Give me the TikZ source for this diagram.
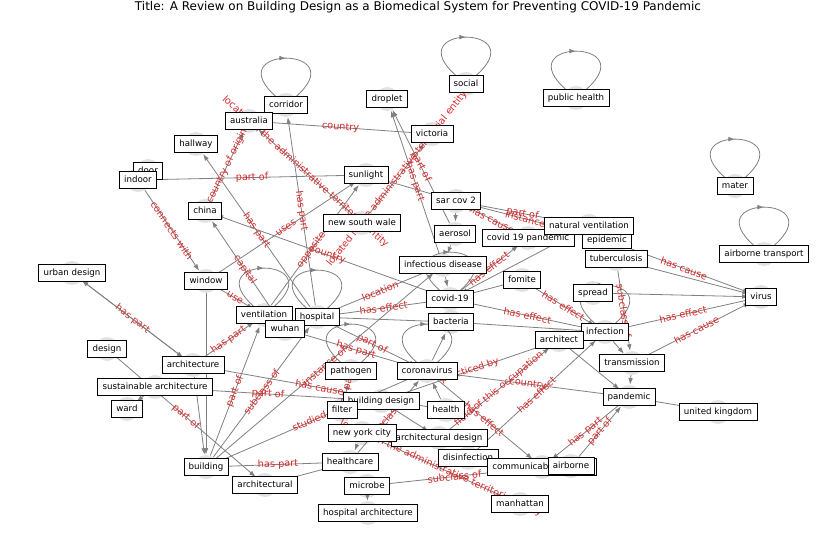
\documentclass[tikz,border=0pt]{standalone}
\usepackage{fontspec}
\setmainfont{DejaVu Sans}
\definecolor{kgedge}{RGB}{128,128,128}
\definecolor{kgred}{RGB}{214,40,40}
\definecolor{kgdisk}{RGB}{226,226,226}
\usetikzlibrary{arrows.meta,decorations.markings}

\begin{document}
\begin{tikzpicture}[x=0.75pt, y=-0.75pt,
    disk/.style={circle, fill=kgdisk, minimum size=18pt, inner sep=0pt},
    term/.style={rectangle, draw=black, fill=white, line width=0.5pt, inner xsep=3.6pt, inner ysep=3.1pt,
      text height=4.9pt, text depth=1.4pt, font=\fontsize{6.5}{7.5}\selectfont},
    link/.style={color=kgedge, line width=0.6pt, -{Latex[length=5pt,width=3.5pt]}},
    selfloop/.style={color=kgedge, line width=0.6pt, postaction={decorate},
      decoration={markings, mark=at position 0.5 with {\arrow{Latex[length=5pt,width=3.5pt]}}}},
    elabel/.style={sloped, text=kgred, font=\fontsize{7.3}{8}\selectfont, inner sep=0.5pt}
  ]
    \useasboundingbox (0,0) rectangle (837,559);
    \node[font=\fontsize{9}{11}\selectfont] (title) at (418,7)
      {Title: A Review on Building Design as a Biomedical System for Preventing COVID-19 Pandemic};

    % Node disks
    \node[disk] (corridor) at (286,105) {};
    \node[disk] (australia) at (249,121) {};
    \node[disk] (droplet) at (387,99) {};
    \node[disk] (social) at (466,84) {};
    \node[disk] (publichealth) at (576,98) {};
    \node[disk] (victoria) at (432,134) {};
    \node[disk] (hallway) at (196,144) {};
    \node[disk] (door) at (148,171) {};
    \node[disk] (indoor) at (138,180) {};
    \node[disk] (sunlight) at (366,175) {};
    \node[disk] (mater) at (735,186) {};
    \node[disk] (sarcov) at (456,201) {};
    \node[disk] (china) at (205,211) {};
    \node[disk] (nsw) at (362,223) {};
    \node[disk] (natvent) at (589,226) {};
    \node[disk] (aerosol) at (455,234) {};
    \node[disk] (pandemic19) at (528,238) {};
    \node[disk] (epidemic) at (607,240) {};
    \node[disk] (airtrans) at (764,254) {};
    \node[disk] (tb) at (616,259) {};
    \node[disk] (infdis) at (443,265) {};
    \node[disk] (urban) at (72,273) {};
    \node[disk] (window) at (206,281) {};
    \node[disk] (fomite) at (522,280) {};
    \node[disk] (spread) at (593,293) {};
    \node[disk] (virus) at (761,297) {};
    \node[disk] (covid) at (450,299) {};
    \node[disk] (vent) at (264,315) {};
    \node[disk] (hospital) at (317,317) {};
    \node[disk] (bacteria) at (451,322) {};
    \node[disk] (wuhan) at (285,329) {};
    \node[disk] (infection) at (605,332) {};
    \node[disk] (architect) at (559,340) {};
    \node[disk] (design) at (107,349) {};
    \node[disk] (transmission) at (632,363) {};
    \node[disk] (architecture) at (193,365) {};
    \node[disk] (pathogen) at (351,371) {};
    \node[disk] (coronavirus) at (427,371) {};
    \node[disk] (sustarch) at (155,387) {};
    \node[disk] (bdesign) at (381,401) {};
    \node[disk] (pandemic) at (629,397) {};
    \node[disk] (ward) at (127,409) {};
    \node[disk] (filter) at (342,410) {};
    \node[disk] (health) at (446,410) {};
    \node[disk] (uk) at (718,412) {};
    \node[disk] (nyc) at (362,433) {};
    \node[disk] (archdesign) at (439,438) {};
    \node[disk] (disinfection) at (468,458) {};
    \node[disk] (healthcare) at (350,462) {};
    \node[disk] (communicable) at (542,467) {};
    \node[disk] (airborne) at (571,466) {};
    \node[disk] (building) at (206,467) {};
    \node[disk] (architectural) at (265,485) {};
    \node[disk] (microbe) at (367,486) {};
    \node[disk] (manhattan) at (520,504) {};
    \node[disk] (hosparch) at (368,513) {};

    % Self loops
    \foreach \n in {corridor,social,publichealth,mater,airtrans,vent,hospital,pathogen,coronavirus,infection,covid}
      \draw[selfloop] (\n.140) .. controls +(-60,-52) and +(60,-52) .. (\n.40);

    % Relations
    \draw[link] (australia) -- node[elabel] {country} (victoria);
    \draw[link] (indoor) -- node[elabel] {part of} (sunlight);
    \draw[link] (indoor) -- node[elabel] {connects with} (window);
    \draw[link] (urban) -- node[elabel] {has part} (architecture);
    \draw[link] (architecture) -- (urban);
    \draw[link] (nsw) -- node[elabel] {located in the administrative territorial entity} (australia);
    \draw[link] (hospital) -- node[elabel] {has part} (corridor);
    \draw[link] (hospital) -- node[elabel] {has part} (hallway);
    \draw[link] (wuhan) -- node[elabel] {capital} (china);
    \draw[link] (window) -- node[elabel] {use} (vent);
    \draw[link] (china) -- node[elabel] {country of origin} (australia);
    \draw[link] (window) -- node[elabel] {uses} (sunlight);
    \draw[link] (vent) -- node[elabel] {opposite of} (sunlight);
    \draw[link] (covid) -- node[elabel] {country} (china);
    \draw[link] (nsw) -- node[elabel] {located in the administrative territorial entity} (victoria);
    \draw[link] (infdis) -- node[elabel] {has part} (droplet);
    \draw[link] (aerosol) -- node[elabel] {part of} (droplet);
    \draw[link] (pandemic19) -- node[elabel] {has cause} (sarcov);
    \draw[link] (sarcov) -- node[elabel] {instance of} (epidemic);
    \draw[link] (sarcov) -- node[elabel] {part of} (natvent);
    \draw[link] (sarcov) -- (aerosol);
    \draw[link] (aerosol) -- (infdis);
    \draw[link] (infdis) -- (covid);
    \draw[link] (sunlight) -- (sarcov);
    \draw[link] (epidemic) -- node[elabel] {has cause} (virus);
    \draw[link] (virus) -- node[elabel] {has effect} (infection);
    \draw[link] (transmission) -- node[elabel] {has cause} (virus);
    \draw[link] (tb) -- node[elabel] {subclass of} (transmission);
    \draw[link] (tb) -- (virus);
    \draw[link] (spread) -- (virus);
    \draw[link] (fomite) -- node[elabel] {has effect} (infection);
    \draw[link] (covid) -- node[elabel] {has effect} (infection);
    \draw[link] (covid) -- node[elabel] {has effect} (pandemic19);
    \draw[link] (natvent) -- (covid);
    \draw[link] (fomite) -- (covid);
    \draw[link] (infdis) -- node[elabel] {location} (hospital);
    \draw[link] (hospital) -- node[elabel] {has effect} (covid);
    \draw[link] (hospital) -- node[elabel] {part of} (coronavirus);
    \draw[link] (wuhan) -- node[elabel] {has part} (coronavirus);
    \draw[link] (hospital) -- (bacteria);
    \draw[link] (architecture) -- node[elabel] {has part} (vent);
    \draw[link] (building) -- node[elabel] {instance of} (infdis);
    \draw[link] (building) -- node[elabel] {part of} (vent);
    \draw[link] (building) -- node[elabel] {subclass of} (hospital);
    \draw[link] (design) -- node[elabel] {part of} (architectural);
    \draw[link] (building) -- node[elabel] {has part} (healthcare);
    \draw[link] (architecture) -- node[elabel] {has cause} (health);
    \draw[link] (sustarch) -- node[elabel] {part of} (bdesign);
    \draw[link] (building) -- node[elabel] {studied by} (coronavirus);
    \draw[link] (bdesign) -- node[elabel] {practiced by} (architect);
    \draw[link] (archdesign) -- node[elabel] {field of this occupation} (architect);
    \draw[link] (disinfection) -- node[elabel] {has effect} (infection);
    \draw[link] (coronavirus) -- node[elabel] {has effect} (communicable);
    \draw[link] (manhattan) -- node[elabel] {located in the administrative territorial entity} (nyc);
    \draw[link] (microbe) -- node[elabel] {subclass of} (communicable);
    \draw[link] (pandemic) -- node[elabel] {has part} (communicable);
    \draw[link] (airborne) -- node[elabel] {part of} (pandemic);
    \draw[link] (coronavirus) -- node[elabel] {country} (pandemic);
    \draw[link] (pandemic) -- (uk);
    \draw[link] (window) -- (building);
    \draw[link] (architecture) -- (building);
    \draw[link] (sustarch) -- (ward);
    \draw[link] (healthcare) -- (architectural);
    \draw[link] (microbe) -- (hosparch);
    \draw[link] (nyc) -- (healthcare);
    \draw[link] (filter) -- node[elabel] {has part} (pathogen);
    \draw[link] (bdesign) -- (archdesign);
    \draw[link] (health) -- (coronavirus);
    \draw[link] (healthcare) -- node[elabel] {subclass of} (coronavirus);
    \draw[link] (infection) -- (transmission);
    \draw[link] (transmission) -- (pandemic);
    \draw[link] (architect) -- (pandemic);
    \draw[link] (bacteria) -- (infection);
    \draw[link] (coronavirus) -- (bacteria);

    % Term boxes
    \node[term] (corridor-t) at (corridor) {corridor};
    \node[term] (australia-t) at (australia) {australia};
    \node[term] (droplet-t) at (droplet) {droplet};
    \node[term] (social-t) at (social) {social};
    \node[term] (publichealth-t) at (publichealth) {public health};
    \node[term] (victoria-t) at (victoria) {victoria};
    \node[term] (hallway-t) at (hallway) {hallway};
    \node[term] (door-t) at (door) {door};
    \node[term] (indoor-t) at (indoor) {indoor};
    \node[term] (sunlight-t) at (sunlight) {sunlight};
    \node[term] (mater-t) at (mater) {mater};
    \node[term] (sarcov-t) at (sarcov) {sar cov 2};
    \node[term] (china-t) at (china) {china};
    \node[term] (nsw-t) at (nsw) {new south wale};
    \node[term] (aerosol-t) at (aerosol) {aerosol};
    \node[term] (pandemic19-t) at (pandemic19) {covid 19 pandemic};
    \node[term] (epidemic-t) at (epidemic) {epidemic};
    \node[term] (natvent-t) at (natvent) {natural ventilation};
    \node[term] (airtrans-t) at (airtrans) {airborne transport};
    \node[term] (tb-t) at (tb) {tuberculosis};
    \node[term] (infdis-t) at (infdis) {infectious disease};
    \node[term] (urban-t) at (urban) {urban design};
    \node[term] (window-t) at (window) {window};
    \node[term] (fomite-t) at (fomite) {fomite};
    \node[term] (spread-t) at (spread) {spread};
    \node[term] (virus-t) at (virus) {virus};
    \node[term] (covid-t) at (covid) {covid-19};
    \node[term] (vent-t) at (vent) {ventilation};
    \node[term] (hospital-t) at (hospital) {hospital};
    \node[term] (bacteria-t) at (bacteria) {bacteria};
    \node[term] (wuhan-t) at (wuhan) {wuhan};
    \node[term] (infection-t) at (infection) {infection};
    \node[term] (architect-t) at (architect) {architect};
    \node[term] (design-t) at (design) {design};
    \node[term] (transmission-t) at (transmission) {transmission};
    \node[term] (architecture-t) at (architecture) {architecture};
    \node[term] (pathogen-t) at (pathogen) {pathogen};
    \node[term] (coronavirus-t) at (coronavirus) {coronavirus};
    \node[term] (sustarch-t) at (sustarch) {sustainable architecture};
    \node[term] (bdesign-t) at (bdesign) {building design};
    \node[term] (pandemic-t) at (pandemic) {pandemic};
    \node[term] (ward-t) at (ward) {ward};
    \node[term] (filter-t) at (filter) {filter};
    \node[term] (health-t) at (health) {health};
    \node[term] (uk-t) at (uk) {united kingdom};
    \node[term] (archdesign-t) at (archdesign) {architectural design};
    \node[term] (nyc-t) at (nyc) {new york city};
    \node[term] (disinfection-t) at (disinfection) {disinfection};
    \node[term] (communicable-t) at (communicable) {communicable disease};
    \node[term] (airborne-t) at (airborne) {airborne};
    \node[term] (healthcare-t) at (healthcare) {healthcare};
    \node[term] (building-t) at (building) {building};
    \node[term] (architectural-t) at (architectural) {architectural};
    \node[term] (microbe-t) at (microbe) {microbe};
    \node[term] (manhattan-t) at (manhattan) {manhattan};
    \node[term] (hosparch-t) at (hosparch) {hospital architecture};
\end{tikzpicture}
\end{document}
